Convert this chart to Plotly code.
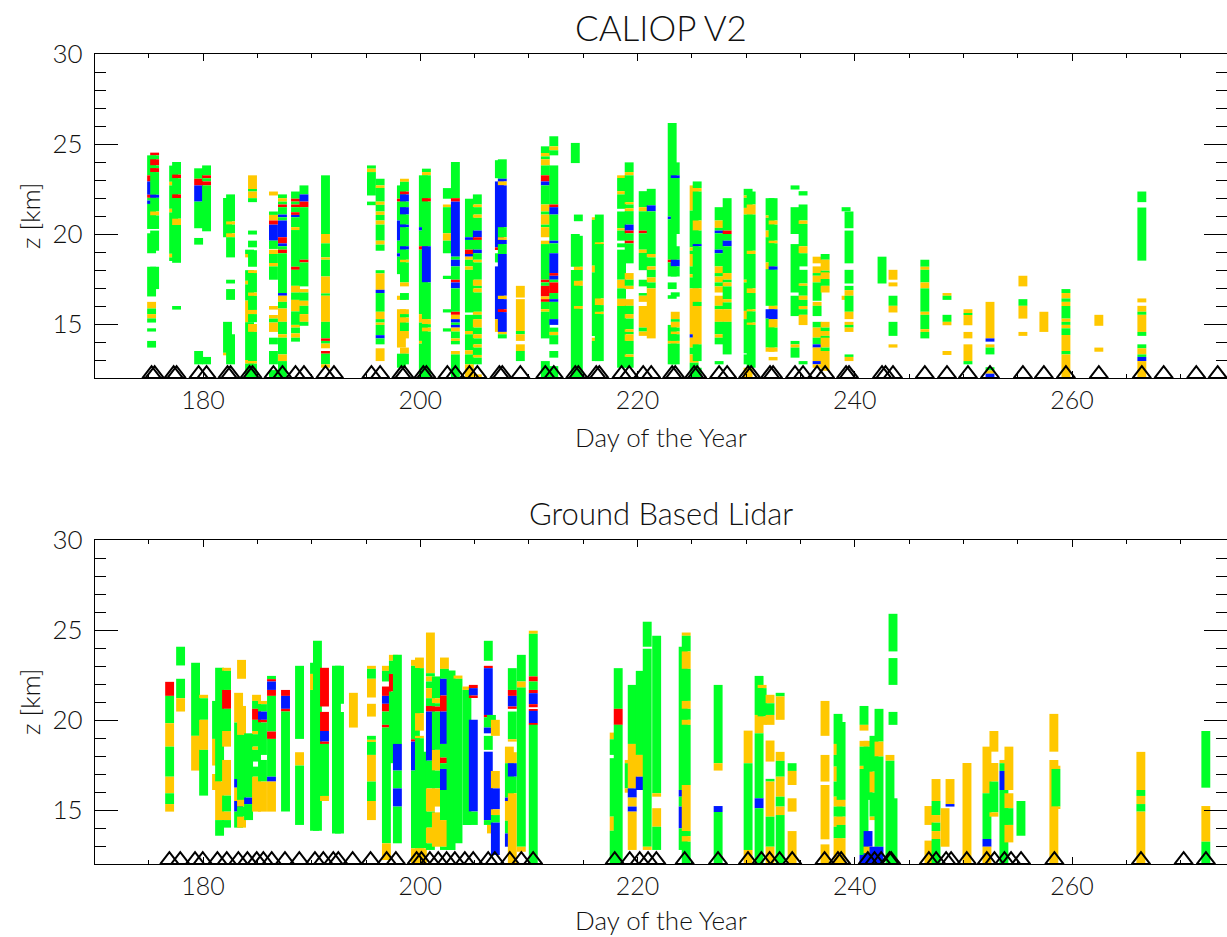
import plotly.graph_objects as go

COLORS = {'g': '#00FF26', 'o': '#FFC800', 'b': '#0019FF', 'r': '#FF0000'}

# ---------------- CALIOP V2 (top panel) ----------------
caliop_days = [175.26, 175.54, 177.29, 177.56, 179.59, 180.32, 182.25, 182.53, 184.28, 184.55,
               186.48, 187.31, 188.51, 189.29, 191.27, 195.5, 196.3, 198.26, 198.54, 200.28,
               200.56, 202.49, 203.23, 204.52, 205.25, 207.28, 207.55, 209.21, 211.51, 212.29,
               214.27, 214.55, 216.2, 216.48, 218.53, 219.23, 220.52, 221.26, 223.19, 223.47,
               225.21, 225.49, 227.51, 228.25, 230.18, 230.46, 232.2, 232.48, 234.5, 235.24,
               236.53, 237.27, 239.2, 239.47, 242.51, 243.52, 246.45, 248.49, 250.42, 252.45,
               255.48, 257.41, 259.44, 262.47, 266.43]

# each profile: (top km, bottom km, class) g=green o=orange b=blue r=red
caliop_layers = [
    [(24.37,23.26,'g'),(23.26,22.92,'r'),(22.92,22.18,'b'),(22.18,22.01,'r'),(22.01,21.86,'g'),(21.86,21.67,'b'),(21.67,20.28,'g'),(20.04,18.93,'g'),(18.18,16.53,'g'),(16.23,15.86,'o'),(15.86,15.55,'g'),(15.55,15.31,'o'),(15.31,15.08,'g'),(14.76,14.58,'g'),(14.06,13.69,'g')],
    [(24.52,24.37,'r'),(24.37,24.15,'g'),(24.15,23.81,'r'),(23.81,23.66,'g'),(23.66,23.44,'r'),(23.44,22.18,'g'),(22.18,22.01,'b'),(22.01,21.25,'g'),(21.25,21.03,'o'),(21.03,20.28,'g'),(20.19,19.07,'g'),(18.18,16.94,'g')],
    [(23.8,22.9,'g'),(22.9,22.7,'o'),(22.7,21.4,'g'),(21.4,21.2,'o'),(21.2,18.9,'g'),(18.9,18.7,'o'),(18.7,18.5,'g')],
    [(24.0,23.3,'g'),(23.3,23.1,'r'),(23.1,22.2,'g'),(22.2,22.0,'r'),(22.0,20.85,'g'),(20.85,20.5,'o'),(20.5,18.4,'g'),(16.0,15.8,'g')],
    [(23.65,23.07,'g'),(23.07,22.7,'r'),(22.7,21.8,'b'),(21.8,20.32,'g'),(19.78,19.41,'g'),(13.5,12.76,'g')],
    [(23.81,23.26,'g'),(23.26,23.1,'r'),(23.1,22.92,'g'),(22.92,22.7,'r'),(22.7,20.15,'g'),(13.17,12.76,'g')],
    [(22.0,19.82,'g'),(15.12,13.4,'g'),(13.4,13.26,'o')],
    [(22.2,20.7,'g'),(20.7,20.52,'o'),(20.52,20.04,'g'),(20.04,19.82,'o'),(19.82,18.7,'g'),(17.46,17.25,'g'),(16.94,16.34,'g'),(14.43,12.76,'g')],
    [(19.13,18.89,'g'),(18.89,18.7,'o'),(17.99,17.4,'g'),(17.4,17.2,'o'),(17.2,16.3,'g'),(16.3,15.1,'o'),(15.1,13.0,'g'),(13.0,12.8,'o'),(12.8,12.0,'g')],
    [(23.26,22.5,'o'),(22.5,22.36,'g'),(22.36,21.99,'o'),(21.99,21.77,'g'),(20.19,19.97,'g'),(19.63,19.26,'g'),(19.1,18.18,'g'),(17.99,17.83,'o'),(17.83,16.75,'g'),(16.75,16.56,'o'),(16.56,15.78,'g'),(15.78,15.55,'o'),(15.55,15.1,'g'),(15.0,14.56,'o'),(14.56,12.94,'g'),(12.94,12.8,'o'),(12.8,11.95,'g')],
    [(22.36,22.14,'o'),(21.25,21.06,'g'),(21.06,20.75,'o'),(20.75,20.52,'r'),(20.52,19.63,'b'),(19.63,19.17,'g'),(19.13,18.89,'o'),(18.89,18.39,'g'),(18.39,18.2,'o'),(18.2,17.46,'g'),(16.0,15.8,'o'),(15.5,15.3,'o'),(15.3,15.08,'g'),(15.08,14.56,'o'),(14.24,13.87,'g'),(13.5,12.76,'g'),(12.44,11.95,'g')],
    [(22.2,21.99,'g'),(21.99,21.8,'o'),(21.8,21.64,'g'),(21.64,21.49,'r'),(21.49,21.08,'g'),(21.08,20.93,'b'),(20.93,20.75,'g'),(20.75,19.82,'b'),(19.82,19.48,'r'),(19.48,19.32,'b'),(19.32,19.13,'g'),(19.13,18.93,'r'),(18.93,16.72,'g'),(16.72,16.57,'b'),(16.57,16.23,'o'),(16.23,15.86,'g'),(15.86,15.12,'o'),(15.12,14.43,'g'),(14.43,14.24,'o'),(14.24,13.31,'g'),(13.31,12.94,'o'),(12.94,11.95,'g')],
    [(22.36,21.96,'g'),(21.96,21.8,'r'),(21.8,21.64,'g'),(21.64,21.49,'r'),(21.49,21.21,'g'),(21.21,21.06,'r'),(21.06,20.93,'b'),(20.93,20.38,'g'),(20.38,20.22,'o'),(20.22,18.18,'g'),(18.18,18.01,'r'),(18.01,17.12,'g'),(17.12,16.75,'o'),(16.75,16.34,'g'),(16.34,15.7,'o'),(15.7,14.95,'g'),(14.95,14.8,'o'),(14.8,14.48,'g'),(14.48,14.24,'o'),(14.24,14.02,'g')],
    [(22.7,22.2,'g'),(22.2,21.8,'b'),(21.8,21.49,'r'),(21.49,18.57,'g'),(18.57,18.42,'r'),(18.42,17.09,'g'),(16.94,16.75,'o'),(16.75,16.29,'g'),(16.29,16.01,'o'),(16.01,15.55,'g'),(15.55,15.12,'o'),(15.12,14.9,'g')],
    [(23.26,20.0,'g'),(20.0,19.48,'o'),(19.48,18.7,'g'),(18.7,18.57,'o'),(18.57,17.64,'g'),(17.64,16.7,'o'),(16.7,16.57,'g'),(16.57,15.12,'o'),(15.12,14.2,'g'),(14.2,14.06,'r'),(14.06,13.91,'g'),(13.91,13.65,'o'),(13.5,13.35,'r'),(13.35,12.76,'g'),(12.76,12.57,'o')],
    [(23.81,23.63,'g'),(23.63,23.44,'o'),(23.44,22.14,'g'),(21.8,21.6,'g')],
    [(23.07,22.7,'g'),(22.7,22.56,'o'),(22.56,21.8,'g'),(21.8,21.62,'o'),(21.62,21.25,'g'),(21.25,21.06,'o'),(21.06,20.75,'g'),(20.75,20.52,'o'),(20.52,19.63,'g'),(19.63,19.41,'o'),(19.41,19.07,'g'),(17.99,17.81,'g'),(17.81,16.9,'o'),(16.9,16.72,'b'),(16.72,15.68,'g'),(15.68,15.27,'o'),(15.27,15.08,'g'),(15.08,14.95,'o'),(14.95,14.38,'g'),(14.38,14.2,'b'),(14.2,13.87,'g'),(13.65,12.94,'o')],
    [(22.7,21.96,'g'),(21.96,21.8,'r'),(21.8,20.75,'g'),(20.75,19.63,'b'),(19.63,18.93,'g'),(18.93,18.74,'b'),(18.74,17.77,'g'),(16.57,16.34,'o'),(15.82,13.69,'o'),(13.35,12.57,'g')],
    [(23.07,22.9,'o'),(22.9,22.36,'g'),(22.36,22.2,'r'),(22.2,21.8,'b'),(21.8,21.49,'g'),(21.49,21.08,'b'),(21.08,20.52,'g'),(20.52,20.38,'b'),(20.38,19.32,'g'),(19.32,19.13,'b'),(19.13,18.57,'g'),(18.57,18.42,'o'),(18.42,17.31,'g'),(17.31,17.09,'o'),(16.72,16.34,'g'),(15.82,15.55,'o'),(15.55,15.36,'g'),(15.36,15.08,'o'),(15.08,14.61,'g'),(14.61,14.2,'o'),(13.69,13.35,'o'),(13.35,12.76,'g')],
    [(23.26,20.38,'g'),(20.38,20.19,'b'),(20.19,19.32,'g'),(19.32,19.13,'r'),(19.13,15.55,'g'),(15.55,15.08,'o'),(15.08,14.06,'g'),(14.06,13.91,'o'),(13.91,11.95,'g')],
    [(23.63,23.44,'g'),(23.44,23.26,'o'),(23.26,21.99,'g'),(21.99,21.8,'r'),(21.8,19.32,'g'),(19.32,17.31,'b'),(17.31,15.27,'g'),(15.27,14.99,'o'),(14.99,14.8,'g'),(14.8,14.58,'o'),(14.58,11.95,'g')],
    [(22.55,21.96,'g'),(21.64,21.49,'o'),(21.49,20.04,'g'),(20.04,19.63,'o'),(19.63,18.93,'g'),(17.68,17.5,'g'),(15.82,15.64,'g'),(14.76,14.58,'g')],
    [(24.0,21.99,'g'),(21.99,21.8,'r'),(21.8,18.74,'b'),(18.74,18.57,'g'),(18.57,18.2,'b'),(18.2,17.46,'g'),(17.46,17.31,'r'),(17.31,16.98,'b'),(16.98,15.68,'g'),(15.68,15.51,'r'),(15.51,15.27,'o'),(15.27,15.08,'b'),(15.08,14.95,'g'),(14.95,14.8,'b'),(14.8,14.58,'o'),(14.58,14.2,'g'),(14.2,14.06,'o'),(14.06,13.87,'g'),(13.5,13.31,'o'),(13.31,11.95,'g')],
    [(21.96,19.82,'g'),(19.82,19.67,'b'),(19.67,19.13,'g'),(19.13,18.89,'r'),(18.89,18.74,'b'),(18.74,18.57,'o'),(18.57,18.2,'g'),(18.2,18.01,'o'),(18.01,15.64,'g'),(15.51,14.61,'g'),(14.61,14.43,'o'),(14.43,13.54,'g'),(13.54,13.31,'o'),(13.31,12.76,'g'),(12.76,11.95,'o')],
    [(22.2,21.64,'g'),(21.64,21.49,'o'),(21.49,21.08,'g'),(21.08,20.9,'o'),(20.9,20.19,'g'),(20.19,19.82,'b'),(19.82,19.67,'r'),(19.67,19.13,'g'),(19.13,18.93,'b'),(18.93,18.57,'g'),(18.57,18.42,'o'),(18.42,17.46,'g'),(17.46,17.12,'o'),(17.12,16.98,'g'),(16.98,16.75,'o'),(16.75,15.68,'g'),(15.68,15.51,'o'),(15.51,15.27,'g'),(15.27,14.8,'o'),(14.8,14.43,'g'),(14.43,14.2,'o'),(14.2,13.87,'g'),(13.87,13.69,'o'),(13.69,13.28,'g'),(13.28,13.13,'o'),(13.13,12.76,'g'),(12.2,11.95,'o')],
    [(24.1,23.1,'g'),(22.92,19.26,'b'),(19.26,19.11,'r'),(18.93,18.42,'g'),(18.2,15.27,'b'),(15.27,14.56,'o')],
    [(24.15,23.07,'g'),(23.07,22.92,'b'),(22.92,22.7,'o'),(22.7,20.38,'b'),(20.38,19.82,'g'),(19.82,19.67,'o'),(19.67,19.44,'b'),(19.44,18.89,'g'),(18.89,16.57,'b'),(16.57,16.38,'o'),(16.38,15.82,'b'),(15.82,15.66,'r'),(15.66,14.56,'b'),(14.56,14.43,'o'),(14.43,14.2,'g')],
    [(17.12,16.47,'o'),(16.38,14.61,'o'),(14.61,14.43,'g'),(14.43,14.06,'o'),(13.87,13.5,'o'),(13.5,12.94,'g')],
    [(24.87,24.5,'g'),(24.5,24.31,'o'),(24.31,24.15,'g'),(24.15,23.81,'o'),(23.81,23.26,'g'),(23.26,22.92,'r'),(22.92,22.7,'b'),(22.7,21.64,'g'),(21.64,21.25,'o'),(21.25,21.08,'g'),(21.08,20.52,'o'),(20.52,20.38,'g'),(20.38,19.82,'o'),(19.63,19.44,'o'),(19.44,17.46,'g'),(17.46,17.31,'r'),(17.31,17.12,'g'),(17.12,16.53,'r'),(16.53,16.38,'o'),(16.38,16.23,'r'),(16.23,15.82,'g'),(15.82,15.68,'o'),(15.68,14.2,'g'),(12.94,11.95,'g')],
    [(25.43,24.87,'g'),(24.87,24.65,'o'),(24.65,24.37,'g'),(23.81,21.64,'g'),(21.64,21.49,'r'),(21.49,21.08,'b'),(21.08,19.63,'g'),(19.63,19.48,'b'),(19.48,18.93,'g'),(18.93,17.83,'b'),(17.83,17.68,'r'),(17.68,17.46,'b'),(17.46,17.31,'g'),(17.31,16.72,'r'),(16.72,16.38,'g'),(16.38,16.23,'b'),(16.23,15.27,'g'),(15.27,14.95,'b'),(14.8,14.56,'g'),(14.56,14.38,'o'),(14.38,13.87,'g'),(13.5,13.13,'g'),(12.66,11.95,'g')],
    [(25.06,23.94,'g'),(20.0,18.18,'g'),(18.0,11.95,'g')],
    [(21.08,20.71,'g'),(19.9,18.18,'g'),(18.18,18.0,'o'),(18.0,17.4,'g'),(17.4,17.12,'o'),(17.12,16.0,'g'),(16.0,15.84,'o'),(15.84,11.95,'g')],
    [(20.93,20.79,'o'),(20.79,18.24,'g'),(18.24,17.87,'o'),(17.87,14.33,'g'),(14.24,14.06,'o'),(14.06,12.94,'g')],
    [(21.08,19.54,'g'),(19.54,19.44,'o'),(19.44,16.42,'g'),(16.42,16.05,'o'),(16.05,15.68,'g'),(15.68,15.55,'o'),(15.55,12.94,'g')],
    [(23.26,23.11,'o'),(23.11,22.38,'g'),(22.38,22.2,'o'),(22.2,21.4,'g'),(21.25,20.32,'g'),(20.32,20.19,'o'),(20.19,19.63,'g'),(19.48,19.26,'g'),(19.13,17.46,'g'),(17.46,16.98,'o'),(16.98,16.4,'g'),(16.4,16.0,'o'),(16.0,12.57,'g')],
    [(23.98,23.44,'g'),(23.44,23.26,'o'),(23.26,21.77,'g'),(21.77,21.64,'o'),(21.64,21.43,'g'),(21.43,21.27,'o'),(21.27,20.52,'g'),(20.52,20.19,'b'),(20.19,20.04,'r'),(20.04,19.63,'g'),(19.63,19.48,'r'),(19.48,18.37,'g'),(17.83,17.46,'o'),(17.46,17.12,'g'),(17.12,16.94,'o'),(16.38,16.01,'o'),(16.01,15.55,'g'),(15.55,15.3,'o'),(15.3,14.71,'g'),(14.71,14.56,'o'),(14.56,14.43,'g'),(14.43,14.06,'o'),(14.06,13.31,'g'),(13.31,13.17,'o'),(13.17,12.57,'g')],
    [(22.38,21.49,'g'),(21.49,21.26,'o'),(21.26,20.19,'g'),(20.19,20.04,'r'),(20.04,19.13,'g'),(19.13,18.95,'o'),(18.95,17.99,'g'),(17.46,17.09,'g'),(16.72,16.57,'g'),(16.57,16.23,'o'),(16.0,14.8,'o'),(14.8,14.58,'g'),(14.58,14.34,'o')],
    [(22.51,21.59,'g'),(21.59,21.26,'b'),(21.26,18.89,'g'),(18.89,18.7,'o'),(18.7,18.2,'g'),(18.2,18.01,'o'),(18.01,17.59,'g'),(17.59,17.31,'o'),(17.31,16.98,'g'),(16.98,14.2,'o')],
    [(26.17,20.97,'g'),(20.97,20.82,'b'),(20.82,18.57,'g'),(18.57,18.42,'r'),(18.42,17.64,'g'),(17.31,16.94,'g'),(16.6,16.4,'g'),(14.95,14.06,'g'),(14.06,13.91,'o'),(13.91,12.76,'g')],
    [(23.98,23.26,'g'),(23.26,23.11,'b'),(23.11,20.0,'g'),(19.32,18.57,'g'),(18.57,18.2,'b'),(18.2,17.64,'g'),(16.76,16.52,'g'),(15.68,15.27,'o'),(15.27,15.12,'g'),(15.12,14.8,'o'),(14.8,14.58,'g'),(14.58,14.43,'o'),(14.43,14.06,'g'),(14.06,13.91,'o'),(13.91,12.76,'g')],
    [(22.7,21.3,'o'),(21.3,19.26,'g'),(19.26,19.07,'o'),(19.07,18.89,'g'),(18.89,18.2,'o'),(18.2,17.77,'g'),(17.77,17.59,'o'),(17.59,16.98,'g'),(16.98,14.43,'o'),(14.43,14.24,'b'),(14.24,13.69,'o'),(13.69,13.31,'g'),(13.31,12.85,'o'),(12.85,11.95,'g')],
    [(22.92,22.55,'g'),(22.55,22.36,'o'),(22.36,20.75,'g'),(20.75,20.19,'o'),(20.19,19.44,'g'),(19.44,19.32,'b'),(19.32,16.98,'g'),(16.98,16.23,'o'),(16.23,16.0,'g'),(16.0,13.87,'o'),(13.87,12.94,'g'),(12.57,11.95,'g')],
    [(21.49,20.75,'g'),(20.75,20.34,'o'),(20.34,20.19,'g'),(20.19,20.04,'b'),(20.04,19.13,'g'),(19.13,18.93,'b'),(18.93,18.2,'g'),(18.2,17.83,'o'),(17.83,17.64,'g'),(17.64,17.31,'o'),(17.31,17.09,'g'),(17.09,16.75,'o'),(16.57,16.01,'o'),(16.01,15.82,'g'),(15.82,15.12,'o'),(15.12,14.43,'g'),(14.43,14.24,'o'),(14.24,13.87,'g'),(12.94,12.76,'g')],
    [(21.99,20.19,'g'),(20.19,20.0,'r'),(20.0,19.63,'g'),(19.63,19.32,'b'),(19.32,17.83,'g'),(17.83,17.46,'o'),(17.46,17.31,'g'),(17.31,17.09,'o'),(17.09,16.38,'g'),(16.38,16.2,'o'),(16.2,15.82,'g'),(15.82,15.12,'o'),(15.12,13.31,'g')],
    [(22.51,22.14,'g'),(22.14,22.01,'o'),(22.01,21.45,'g'),(21.45,21.08,'o'),(21.08,17.46,'g'),(17.46,17.31,'o'),(17.31,15.73,'g'),(15.73,15.27,'o'),(15.27,13.37,'g'),(13.31,12.76,'g'),(12.57,11.95,'o')],
    [(22.36,21.64,'g'),(21.64,21.08,'o'),(21.08,19.07,'g'),(19.07,18.89,'o'),(18.89,16.98,'g'),(16.98,16.72,'o'),(16.72,15.82,'g'),(15.82,15.7,'o'),(15.7,15.08,'g'),(15.08,14.95,'o'),(14.95,12.57,'g')],
    [(21.99,21.03,'g'),(21.03,20.9,'o'),(20.9,20.19,'g'),(20.19,19.82,'o'),(19.82,18.42,'g'),(18.42,18.05,'o'),(18.05,16.01,'g'),(15.82,15.3,'b'),(15.3,13.69,'g'),(13.69,13.46,'o')],
    [(21.99,20.75,'g'),(20.75,20.52,'o'),(20.52,19.63,'g'),(19.63,19.48,'o'),(19.48,18.2,'g'),(18.2,18.01,'b'),(18.01,16.01,'g'),(16.01,15.82,'o'),(15.82,15.27,'b'),(15.27,14.8,'o'),(14.8,13.69,'g'),(13.69,13.46,'o'),(13.17,12.98,'o')],
    [(22.7,22.47,'g'),(21.49,20.0,'g'),(19.44,16.75,'g'),(16.57,15.44,'g'),(14.06,13.87,'g'),(13.87,13.69,'o'),(13.69,13.13,'g')],
    [(22.38,22.14,'g'),(21.64,20.75,'g'),(20.75,20.56,'o'),(20.56,19.32,'g'),(19.32,18.93,'o'),(18.93,18.2,'g'),(18.01,17.25,'g'),(17.25,17.12,'o'),(17.12,16.57,'g'),(16.57,16.34,'o'),(16.34,16.0,'g'),(16.0,15.82,'o'),(15.82,15.51,'g'),(15.51,14.94,'o'),(12.94,12.76,'g')],
    [(18.74,18.37,'o'),(18.2,17.83,'o'),(17.83,17.68,'g'),(17.68,17.31,'o'),(17.31,16.29,'g'),(16.23,16.01,'o'),(16.01,15.44,'g'),(15.12,14.8,'g'),(14.8,14.24,'o'),(14.24,13.87,'g'),(13.87,13.69,'b'),(13.69,12.94,'o'),(12.94,12.76,'b'),(12.76,12.57,'o'),(12.05,11.95,'b')],
    [(18.89,18.57,'g'),(18.57,17.96,'o'),(17.96,17.87,'g'),(17.87,17.5,'o'),(17.5,17.12,'g'),(17.12,16.75,'o'),(15.12,14.8,'o'),(14.8,14.61,'g'),(14.61,14.34,'o'),(14.34,14.24,'g'),(14.24,13.69,'o'),(13.69,13.5,'g'),(13.5,12.4,'o')],
    [(21.49,21.26,'g'),(16.57,16.34,'o')],
    [(21.25,20.32,'g'),(20.19,18.37,'g'),(18.01,17.25,'g'),(17.12,16.88,'g'),(16.88,16.57,'o'),(16.57,15.68,'g'),(15.68,15.27,'o'),(15.12,14.95,'o'),(14.95,14.8,'g'),(14.8,14.56,'o'),(13.31,13.17,'g'),(13.17,12.94,'o')],
    [(18.74,17.25,'g')],
    [(18.01,17.46,'o'),(17.31,17.09,'o'),(16.57,16.01,'g'),(16.01,15.64,'o'),(15.12,14.34,'g'),(13.87,13.69,'o')],
    [(18.57,18.18,'g'),(18.18,18.01,'o'),(18.01,17.31,'g'),(17.31,16.98,'o'),(16.98,15.68,'g'),(15.68,15.51,'o'),(15.51,14.71,'g'),(14.71,14.56,'o'),(14.56,14.2,'g')],
    [(16.72,16.57,'o'),(16.57,16.34,'g'),(15.51,15.12,'g'),(15.12,14.93,'o'),(13.5,13.28,'o')],
    [(15.82,15.6,'o'),(15.6,15.5,'g'),(15.5,14.93,'o'),(14.56,14.2,'o'),(13.87,12.94,'o'),(12.94,12.76,'g')],
    [(16.23,14.2,'o'),(14.2,14.02,'b'),(13.87,13.69,'o'),(13.69,13.31,'g'),(12.6,12.42,'g'),(12.42,12.24,'o'),(12.24,11.95,'b')],
    [(17.68,17.09,'o'),(16.38,16.01,'g'),(16.01,15.3,'o'),(14.56,14.34,'o')],
    [(15.68,14.56,'o')],
    [(16.94,16.72,'g'),(16.72,16.42,'o'),(16.42,16.23,'g'),(16.23,16.0,'o'),(16.0,15.3,'g'),(15.3,15.12,'o'),(15.12,14.95,'g'),(14.95,14.76,'o'),(14.76,14.39,'g'),(14.39,13.5,'o'),(13.5,13.31,'g'),(13.31,11.95,'o')],
    [(15.51,14.9,'o'),(13.69,13.46,'o')],
    [(22.36,21.77,'g'),(21.47,18.52,'g'),(16.42,16.2,'o'),(16.01,15.68,'o'),(15.68,15.51,'g'),(15.51,14.56,'o'),(14.56,14.34,'g'),(13.87,13.65,'g'),(13.65,13.31,'o'),(13.31,13.17,'g'),(13.17,12.94,'b'),(12.94,11.95,'o')],
]

caliop_obs_days = caliop_days + [192.05, 242.83, 268.44, 271.44, 273.41]

# ---------------- Ground Based Lidar (bottom panel) ----------------
lidar_days = [176.92, 177.93, 179.31, 180.05, 181.24, 181.52, 182.16, 183.27, 183.54, 184.19,
              184.92, 185.47, 186.3, 187.59, 188.88, 190.26, 190.53, 191.18, 192.28, 192.56,
              193.84, 195.5, 196.88, 197.52, 197.89, 199.55, 199.92, 200.19, 200.93, 201.48,
              202.22, 202.83, 203.47, 204.29, 204.88, 206.26, 206.55, 206.91, 208.2, 208.47,
              209.3, 210.4, 217.85, 218.22, 219.23, 219.51, 220.25, 220.89, 221.76, 224.2,
              224.48, 227.42, 230.18, 231.19, 231.47, 232.2, 233.13, 234.23, 237.26, 238.46,
              238.74, 240.85, 241.22, 241.77, 242.23, 243.24, 243.52, 246.83, 247.48, 248.31,
              248.77, 250.33, 252.17, 252.81, 253.73, 254.19, 255.3, 258.33, 258.52, 266.34,
              272.32]

lidar_layers = [
    [(22.12,21.34,'r'),(21.34,19.82,'g'),(19.82,18.52,'o'),(18.52,16.85,'g'),(16.85,15.93,'o'),(15.93,15.33,'g'),(15.33,14.91,'o')],
    [(24.07,23.03,'g'),(22.29,21.21,'g'),(21.21,20.47,'o')],
    [(23.18,19.12,'g'),(19.12,17.19,'o')],
    [(21.4,21.21,'o'),(21.21,20.01,'g'),(20.01,18.34,'o'),(18.34,15.8,'g')],
    [(21.06,18.95,'g'),(18.95,17.47,'o'),(17.0,16.11,'o')],
    [(22.9,16.58,'g'),(16.58,14.44,'o'),(14.44,13.57,'g')],
    [(22.9,22.73,'o'),(22.73,21.67,'g'),(21.67,20.62,'r'),(20.62,19.39,'g'),(19.39,18.52,'o'),(17.78,15.8,'o'),(15.8,14.91,'g'),(14.91,14.44,'o'),(14.44,14.02,'g')],
    [(21.51,19.86,'o'),(19.86,16.72,'g'),(16.72,16.24,'b'),(16.24,15.5,'o'),(15.5,14.91,'b'),(14.91,14.02,'g')],
    [(23.34,22.29,'o'),(20.78,19.17,'o'),(19.17,15.56,'g'),(15.56,15.19,'o'),(15.19,14.63,'g'),(14.63,14.02,'o')],
    [(19.26,15.69,'g'),(15.69,15.33,'b'),(15.33,14.44,'g')],
    [(21.4,21.06,'o'),(21.06,20.62,'g'),(20.62,20.01,'r'),(20.01,19.39,'g'),(19.39,19.21,'o'),(19.21,18.52,'g'),(18.52,18.34,'o'),(18.34,17.69,'g'),(17.41,16.85,'g'),(16.85,14.91,'o')],
    [(21.06,20.88,'o'),(20.88,20.47,'g'),(20.47,20.01,'b'),(20.01,19.86,'r'),(19.86,18.06,'g'),(17.78,16.58,'g'),(16.58,14.91,'o')],
    [(22.45,22.27,'g'),(22.27,22.14,'r'),(22.14,21.67,'b'),(21.67,21.34,'r'),(21.34,19.36,'g'),(19.36,18.95,'r'),(18.95,16.85,'g'),(16.85,16.58,'b'),(16.58,14.91,'o')],
    [(21.67,21.34,'r'),(21.34,20.62,'b'),(20.62,20.47,'r'),(20.47,14.91,'g')],
    [(23.01,18.95,'g'),(18.21,17.47,'o'),(17.47,14.17,'g')],
    [(23.18,22.56,'g'),(22.56,21.67,'o'),(21.67,13.85,'g')],
    [(24.4,13.85,'g')],
    [(22.9,20.75,'r'),(20.45,19.39,'r'),(19.39,18.8,'b'),(18.8,18.67,'r'),(18.67,15.78,'g'),(15.78,15.5,'o')],
    [(23.01,13.7,'g')],
    [(23.01,20.9,'g'),(20.45,13.7,'g')],
    [(21.51,19.58,'o')],
    [(23.01,22.84,'o'),(22.84,22.29,'g'),(22.29,21.25,'o'),(20.9,20.19,'o'),(19.12,18.9,'g'),(18.9,18.78,'o'),(18.78,18.06,'g'),(18.06,16.58,'o'),(16.58,15.5,'g'),(15.5,14.44,'o')],
    [(23.01,22.73,'o'),(22.73,22.14,'g'),(21.86,21.34,'r'),(21.34,20.9,'b'),(20.9,20.47,'r'),(20.47,19.73,'g'),(19.73,19.58,'r'),(19.58,13.15,'g'),(13.15,12.22,'o')],
    [(23.62,23.29,'o'),(23.29,22.56,'g'),(22.56,21.58,'r'),(21.58,17.6,'g')],
    [(23.62,18.67,'g'),(18.67,17.19,'b'),(17.19,16.2,'g'),(16.2,15.19,'b'),(15.19,13.15,'g')],
    [(23.34,23.01,'o'),(23.01,18.93,'g'),(18.93,18.8,'r'),(18.8,17.19,'b'),(17.19,12.87,'g'),(12.87,12.04,'o')],
    [(23.47,22.88,'o'),(22.88,20.38,'g'),(20.38,19.41,'o'),(19.12,18.99,'o'),(18.99,12.87,'g'),(12.87,11.98,'o')],
    [(18.24,12.87,'g'),(12.87,12.04,'o')],
    [(24.86,22.6,'o'),(22.6,22.42,'g'),(22.42,22.14,'o'),(22.14,21.77,'g'),(21.77,21.21,'o'),(21.21,20.78,'g'),(20.78,20.47,'r'),(20.47,17.74,'b'),(17.74,16.2,'g'),(16.2,14.91,'o'),(14.91,14.02,'g'),(14.02,13.15,'o'),(13.15,12.78,'g')],
    [(22.42,21.21,'g'),(21.21,20.93,'o'),(20.93,20.75,'g'),(20.75,20.47,'r'),(20.47,18.34,'g'),(18.34,17.19,'o'),(17.19,16.2,'g'),(16.2,15.19,'o'),(14.87,12.96,'o')],
    [(23.47,22.84,'o'),(22.84,22.29,'g'),(22.29,21.36,'b'),(21.36,20.47,'r'),(20.47,18.67,'b'),(18.67,17.91,'g'),(17.91,17.6,'r'),(17.6,17.28,'g'),(17.28,16.11,'b'),(16.11,14.44,'g'),(14.44,12.96,'o'),(12.96,12.78,'g')],
    [(22.75,12.78,'g')],
    [(22.47,22.29,'o'),(22.29,13.15,'g')],
    [(21.86,21.67,'o'),(21.67,14.17,'g')],
    [(21.95,21.77,'r'),(21.77,21.36,'b'),(21.36,21.25,'r'),(20.01,14.91,'b'),(14.91,14.17,'g')],
    [(24.4,23.29,'g'),(23.01,22.88,'r'),(22.88,20.28,'b'),(20.28,20.15,'r'),(20.15,19.58,'g'),(19.58,19.26,'b'),(19.12,18.34,'g'),(18.24,14.44,'b'),(14.44,14.17,'g')],
    [(20.28,19.73,'g'),(14.17,13.7,'o')],
    [(20.01,19.12,'o'),(17.17,16.2,'o'),(16.2,15.04,'b'),(15.04,14.72,'o'),(14.72,14.3,'g'),(14.3,12.5,'b')],
    [(18.52,17.6,'o'),(17.6,15.69,'g'),(15.69,15.5,'b'),(15.5,14.4,'o'),(14.4,13.7,'g'),(13.7,12.96,'b')],
    [(22.88,21.67,'g'),(21.67,21.34,'r'),(21.34,20.75,'b'),(20.75,20.62,'r'),(20.47,18.93,'g'),(18.93,18.8,'o'),(18.21,17.6,'o'),(17.6,16.85,'b'),(16.85,15.93,'g'),(15.93,12.04,'o')],
    [(23.62,22.14,'g'),(22.14,21.8,'o'),(21.8,12.96,'g'),(12.96,12.68,'o')],
    [(24.96,24.79,'o'),(24.79,22.42,'g'),(22.42,22.14,'r'),(22.14,21.67,'g'),(21.67,21.49,'r'),(21.49,20.88,'b'),(20.88,20.71,'r'),(20.6,20.51,'r'),(20.51,19.82,'b'),(19.82,19.73,'r'),(19.73,12.04,'g')],
    [(19.3,18.93,'o'),(18.93,18.06,'g'),(17.88,14.63,'g'),(14.63,13.85,'o'),(13.85,12.04,'g')],
    [(22.88,20.62,'g'),(20.62,19.73,'r'),(19.73,12.04,'g')],
    [(17.78,17.6,'o'),(17.6,16.2,'g'),(16.2,15.96,'o')],
    [(21.95,18.67,'g'),(18.67,16.2,'o'),(16.2,15.69,'b'),(15.69,15.19,'o'),(15.19,14.91,'b'),(14.91,12.78,'o')],
    [(22.73,18.06,'g'),(18.06,16.85,'o'),(16.85,16.11,'b')],
    [(25.46,24.07,'g'),(23.96,12.96,'g'),(12.96,12.78,'o')],
    [(24.68,15.93,'g'),(15.93,15.74,'o'),(15.1,14.07,'o'),(14.07,12.78,'g')],
    [(24.07,16.11,'g'),(16.11,15.74,'b'),(15.74,15.19,'g'),(15.19,13.98,'b'),(13.98,12.78,'g')],
    [(24.86,24.68,'o'),(24.68,23.81,'g'),(23.81,22.84,'o'),(22.84,21.06,'g'),(21.06,20.62,'o'),(20.62,20.01,'g'),(20.01,19.73,'o'),(19.73,16.39,'g'),(16.39,13.83,'o'),(13.83,13.55,'g'),(13.55,13.24,'o'),(13.24,12.04,'g')],
    [(21.95,17.6,'g'),(17.6,17.19,'o'),(15.22,14.89,'b'),(14.89,12.04,'g')],
    [(19.41,17.6,'o'),(17.6,12.78,'g'),(12.78,12.04,'o')],
    [(22.45,20.28,'g'),(20.28,19.26,'o'),(19.26,15.65,'g'),(15.65,15.1,'b'),(15.1,12.04,'g')],
    [(21.95,21.77,'o'),(21.77,20.19,'g'),(20.19,19.73,'o')],
    [(21.4,20.93,'o'),(20.93,20.28,'g'),(20.28,19.73,'o'),(18.86,17.69,'o'),(16.73,16.58,'g'),(16.58,14.63,'o'),(14.63,12.96,'g'),(12.96,12.04,'o')],
    [(21.51,21.31,'g'),(21.31,20.01,'o'),(18.23,17.73,'o'),(17.73,16.85,'g'),(16.85,15.74,'o'),(15.74,15.19,'g'),(15.19,14.72,'o'),(14.72,12.04,'g')],
    [(17.6,17.17,'g'),(17.17,16.39,'o'),(15.65,14.91,'o'),(13.83,12.04,'o')],
    [(21.06,19.12,'o'),(18.06,16.58,'o'),(16.39,13.37,'o'),(13.09,12.04,'o')],
    [(20.34,18.67,'g'),(18.67,18.06,'o'),(18.06,17.41,'g'),(17.41,16.58,'o'),(16.58,15.74,'g'),(15.74,15.19,'o'),(15.19,14.63,'g'),(14.63,14.07,'o'),(14.07,13.43,'g'),(13.43,12.04,'o')],
    [(19.89,15.56,'g'),(15.56,15.19,'o'),(15.19,14.63,'g'),(14.63,14.17,'o'),(14.17,13.43,'g'),(13.43,12.04,'o')],
    [(20.78,19.73,'g'),(19.73,19.41,'o'),(18.84,18.52,'o'),(18.52,17.45,'g'),(17.45,17.28,'o'),(17.28,12.5,'g'),(12.5,11.94,'b')],
    [(18.84,18.52,'o'),(18.52,15.56,'g'),(13.83,12.96,'b'),(12.96,12.59,'o'),(12.59,11.94,'b')],
    [(19.12,17.13,'g'),(17.13,15.97,'o'),(15.97,14.63,'g'),(14.63,14.44,'o'),(12.96,11.94,'b')],
    [(20.62,18.8,'g'),(18.8,17.97,'o'),(17.97,12.96,'g'),(12.96,11.94,'b')],
    [(18.06,17.74,'o'),(17.74,12.04,'g')],
    [(25.9,23.81,'g'),(23.44,21.95,'g'),(20.45,19.73,'g'),(15.65,11.94,'g')],
    [(15.22,14.17,'o'),(13.3,12.04,'o')],
    [(16.72,15.5,'o'),(15.5,14.72,'g'),(14.72,14.3,'o'),(14.3,13.83,'g'),(13.83,13.39,'o'),(13.39,11.94,'g')],
    [(15.1,12.96,'o')],
    [(16.72,15.33,'o'),(15.33,15.19,'b')],
    [(17.61,11.94,'o')],
    [(18.52,15.93,'o'),(15.93,13.39,'g'),(13.39,12.96,'b'),(12.96,11.94,'o')],
    [(19.39,18.24,'o'),(17.61,16.58,'o'),(16.58,14.87,'g'),(14.87,14.63,'o')],
    [(17.78,17.6,'o'),(17.6,17.17,'g'),(17.17,16.11,'b'),(16.11,11.94,'g')],
    [(18.52,16.11,'o'),(15.93,15.1,'o'),(15.1,14.17,'g'),(14.17,13.2,'o')],
    [(15.5,13.57,'g')],
    [(20.34,18.24,'o'),(17.78,11.94,'o')],
    [(17.46,17.28,'o'),(17.28,15.19,'g'),(15.19,15.1,'o')],
    [(18.23,16.11,'o'),(16.11,15.78,'g'),(15.78,15.33,'o'),(15.33,14.91,'g'),(14.91,11.94,'o')],
    [(19.39,16.24,'g'),(15.22,13.24,'o'),(13.24,11.94,'g')],
]

lidar_obs_days = [176.9, 177.9, 179.26, 179.97, 181.32, 182.18, 183.25, 184.08, 184.94, 185.55,
                  186.32, 187.54, 188.86, 190.3, 191.07, 191.99, 192.45, 193.77, 195.42, 196.9,
                  197.75, 199.66, 200.1, 200.88, 201.65, 202.42, 203.18, 204.1, 204.87, 206.25,
                  206.86, 208.24, 209.3, 210.39, 217.9, 219.28, 220.2, 220.97, 221.73, 224.34,
                  227.41, 230.17, 231.4, 232.16, 233.08, 234.24, 237.22, 238.45, 238.75, 241.2,
                  241.82, 242.43, 243.2, 243.35, 246.82, 247.49, 248.41, 248.87, 250.31, 252.15,
                  252.86, 253.78, 254.39, 255.31, 258.38, 266.35, 270.28, 272.33]

X_RANGE = [170.05, 274.27]
Y_RANGE = [12, 30]
MARK_Z = 12.22
BAR_W = 0.82
FONT = "Lato"
FW = 300

fig = go.Figure()

panels = [
    (caliop_days, caliop_layers, caliop_obs_days, 'x', 'y'),
    (lidar_days, lidar_layers, lidar_obs_days, 'x2', 'y2'),
]
for days, layers, obs, xa, ya in panels:
    xs, bases, hs, cols = [], [], [], []
    for d, segs in zip(days, layers):
        for top, bot, c in segs:
            xs.append(d)
            bases.append(bot)
            hs.append(top - bot)
            cols.append(COLORS[c])
    fig.add_trace(go.Bar(x=xs, y=hs, base=bases, width=BAR_W,
                         marker=dict(color=cols, line=dict(width=0)),
                         xaxis=xa, yaxis=ya, showlegend=False, hoverinfo='skip'))
    fig.add_trace(go.Scatter(x=obs, y=[MARK_Z] * len(obs), mode='markers',
                             marker=dict(symbol='triangle-up-open', size=16, color='black',
                                         line=dict(width=2, color='black')),
                             cliponaxis=False, xaxis=xa, yaxis=ya, showlegend=False,
                             hoverinfo='skip'))

W, H = 1227, 937
def px_y(p):
    return (H - p) / H

xdom = [95 / W, 1.0]
tickfont = dict(family=FONT, size=25, color='#111', weight=FW)
common_x = dict(range=X_RANGE, domain=xdom, showgrid=False, zeroline=False, automargin=False,
                showline=True, linecolor='black', linewidth=1.2, mirror='ticks',
                ticks='inside', ticklen=7, tickwidth=1.2, tickcolor='black',
                tick0=0, dtick=20,
                minor=dict(ticks='inside', ticklen=4, dtick=5, tickcolor='black', tickwidth=1),
                tickfont=tickfont, ticklabelstandoff=0)
common_y = dict(range=Y_RANGE, showgrid=False, zeroline=False, automargin=False,
                showline=True, linecolor='black', linewidth=1.2, mirror='ticks',
                ticks='inside', ticklen=23, tickwidth=1.2, tickcolor='black',
                tick0=0, dtick=5,
                minor=dict(ticks='inside', ticklen=11, dtick=1, tickcolor='black', tickwidth=1),
                tickfont=dict(family=FONT, size=26, color='#111', weight=FW), ticklabelstandoff=6)

fig.update_layout(
    width=W, height=H, autosize=False,
    margin=dict(l=0, r=0, t=0, b=0, pad=0, autoexpand=False),
    plot_bgcolor='white', paper_bgcolor='white',
    barmode='overlay',
    xaxis=dict(common_x, anchor='y'),
    yaxis=dict(common_y, domain=[px_y(378), px_y(54)], anchor='x'),
    xaxis2=dict(common_x, anchor='y2'),
    yaxis2=dict(common_y, domain=[px_y(864), px_y(540)], anchor='x2'),
)

afont = dict(family=FONT, size=26, color='#111', weight=FW)
cx = (95 + 1227) / 2 / W
ann = [
    dict(text='CALIOP V2', x=cx, y=px_y(27), font=dict(family=FONT, size=35, color='#111', weight=FW)),
    dict(text='Ground Based Lidar', x=cx, y=px_y(513), font=dict(family=FONT, size=31, color='#111', weight=FW)),
    dict(text='Day of the Year', x=cx, y=px_y(437), font=afont),
    dict(text='Day of the Year', x=cx, y=px_y(920), font=afont),
    dict(text='z [km]', x=30 / W, y=px_y(216), font=afont, textangle=-90),
    dict(text='z [km]', x=30 / W, y=px_y(702), font=afont, textangle=-90),
]
for a in ann:
    fig.add_annotation(xref='paper', yref='paper', showarrow=False,
                       xanchor='center', yanchor='middle', **a)

fig.write_html("out.html")
